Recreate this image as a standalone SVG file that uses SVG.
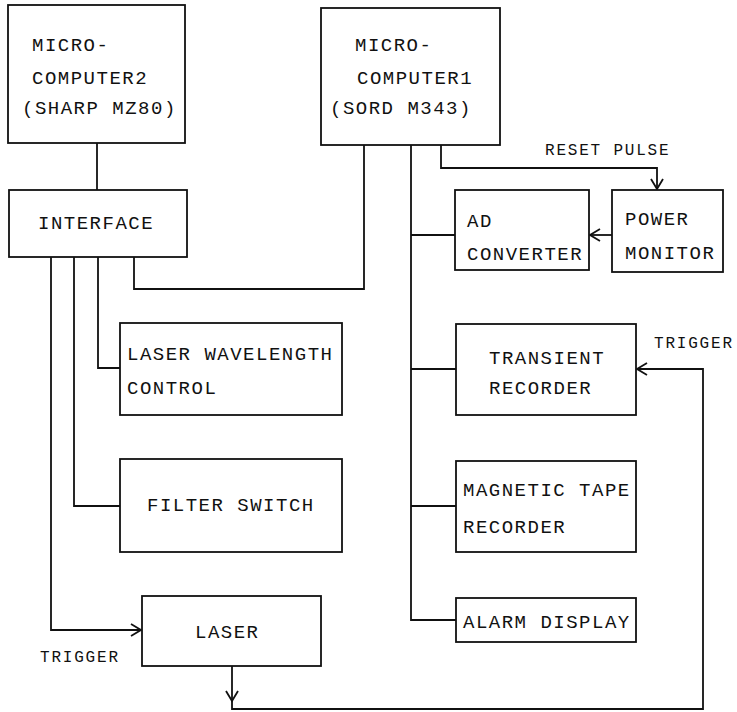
<svg xmlns="http://www.w3.org/2000/svg" width="737" height="712" viewBox="0 0 737 712">
<defs>
<style>
.box{fill:#fff;stroke:#111;stroke-width:1.8}
.ln{fill:none;stroke:#111;stroke-width:1.8}
.t{font-family:"Liberation Mono","DejaVu Sans Mono",monospace;font-size:19px;letter-spacing:1.5px;fill:#111}
.s{font-family:"Liberation Mono","DejaVu Sans Mono",monospace;font-size:16px;letter-spacing:1.8px;fill:#111}
</style>
<marker id="arr" markerUnits="userSpaceOnUse" markerWidth="14" markerHeight="16" refX="11" refY="7" orient="auto" viewBox="0 0 14 14">
<path d="M1,1 L11,7 L1,13" fill="none" stroke="#111" stroke-width="1.8"/>
</marker>
</defs>
<rect width="737" height="712" fill="#fff"/>
<g id="connectors">
<path class="ln" d="M97,143 V190"/>
<path class="ln" d="M134,257 V289 H364 V145"/>
<path class="ln" d="M98,257 V368 H120"/>
<path class="ln" d="M74,257 V506 H120"/>
<path class="ln" d="M51,257 V630 H141" marker-end="url(#arr)"/>
<path class="ln" d="M411,145 V620 H456"/>
<path class="ln" d="M411,235 H455"/>
<path class="ln" d="M411,369 H456"/>
<path class="ln" d="M411,506 H456"/>
<path class="ln" d="M441,145 V168 H657 V189" marker-end="url(#arr)"/>
<path class="ln" d="M612,235 H590" marker-end="url(#arr)"/>
<path class="ln" d="M232,666 V701" marker-end="url(#arr)"/>
<path class="ln" d="M232,700 V709 H703 V369 H637" marker-end="url(#arr)"/>
</g>
<g id="mc2">
<rect class="box" x="8" y="5" width="177" height="138"/>
<text class="t" x="32" y="51">MICRO-</text>
<text class="t" x="32" y="84">COMPUTER2</text>
<text class="t" x="22" y="114">(SHARP MZ80)</text>
</g>
<g id="mc1">
<rect class="box" x="321" y="8" width="179" height="137"/>
<text class="t" x="355" y="51">MICRO-</text>
<text class="t" x="357" y="84">COMPUTER1</text>
<text class="t" x="330" y="114">(SORD M343)</text>
</g>
<g id="interface">
<rect class="box" x="9" y="190" width="178" height="67"/>
<text class="t" x="38" y="229">INTERFACE</text>
</g>
<g id="adconv">
<rect class="box" x="455" y="190" width="134" height="80"/>
<text class="t" x="467" y="227">AD</text>
<text class="t" x="467" y="260">CONVERTER</text>
</g>
<g id="powermon">
<rect class="box" x="612" y="190" width="111" height="82"/>
<text class="t" x="625" y="225">POWER</text>
<text class="t" x="625" y="259">MONITOR</text>
</g>
<g id="lwc">
<rect class="box" x="120" y="323" width="222" height="92"/>
<text class="t" x="127" y="360">LASER WAVELENGTH</text>
<text class="t" x="127" y="394">CONTROL</text>
</g>
<g id="filter">
<rect class="box" x="120" y="459" width="222" height="93"/>
<text class="t" x="147" y="511">FILTER SWITCH</text>
</g>
<g id="laser">
<rect class="box" x="142" y="596" width="179" height="70"/>
<text class="t" x="195" y="638">LASER</text>
</g>
<g id="transient">
<rect class="box" x="456" y="324" width="180" height="91"/>
<text class="t" x="489" y="364">TRANSIENT</text>
<text class="t" x="489" y="394">RECORDER</text>
</g>
<g id="magtape">
<rect class="box" x="456" y="461" width="180" height="91"/>
<text class="t" x="463" y="496">MAGNETIC TAPE</text>
<text class="t" x="463" y="533">RECORDER</text>
</g>
<g id="alarm">
<rect class="box" x="456" y="598" width="180" height="44"/>
<text class="t" x="463" y="628">ALARM DISPLAY</text>
</g>
<g id="labels">
<text class="s" x="545" y="155">RESET PULSE</text>
<text class="s" x="654" y="348">TRIGGER</text>
<text class="s" x="40" y="662">TRIGGER</text>
</g>
</svg>
